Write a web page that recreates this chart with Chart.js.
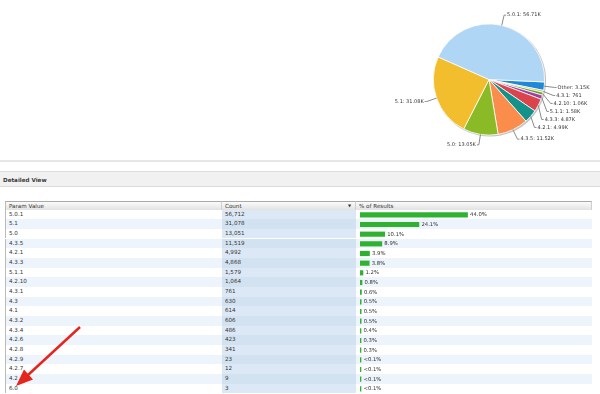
<!DOCTYPE html>
<html>
<head>
<meta charset="utf-8">
<script src="https://cdn.jsdelivr.net/npm/chart.js@4"></script>
<style>
body { margin: 0; width: 600px; height: 394px; overflow: hidden; position: relative; background: #fff;
  font-family: Verdana, "DejaVu Sans", sans-serif; color: #333; }
#pieBox { position: absolute; left: 380px; top: 0; width: 220px; height: 156px; }
.sep { position: absolute; left: 0; top: 160px; width: 600px; height: 2px; background: #e6e6e6; }
.hdr { position: absolute; left: 0; top: 171px; width: 600px; height: 16px; background: #f1f1f1;
  border-top: 1px solid #dcdcdc; border-bottom: 1px solid #dcdcdc; font-weight: bold; font-size: 5.6px;
  line-height: 16px; padding-left: 3px; box-sizing: border-box; color: #3a3a3a; }
.th { position: absolute; top: 201px; height: 8.5px; line-height: 8.5px; font-size: 5.6px; padding-left: 3px;
  box-sizing: border-box; background: linear-gradient(#fbfbfb, #e2e2e2); border-top: 1px solid #a9a9a9;
  border-right: 1px solid #cfcfcf; }
.cell { position: absolute; font-size: 5.6px; padding-left: 3px; box-sizing: border-box; }
#barBox { position: absolute; left: 356px; top: 209.5px; width: 236px; height: 183.7px; }
svg { position: absolute; left: 0; top: 0; }
</style>
</head>
<body>
<div id="pieBox"><canvas id="pie"></canvas></div>
<div class="sep"></div>
<div class="hdr">Detailed View</div>
<div id="table"></div>
<div id="barBox"><canvas id="bars"></canvas></div>
<svg width="600" height="394">
  <line x1="80" y1="327" x2="28" y2="375" stroke="#e4261e" stroke-width="2.5"/>
  <polygon points="16,386 24,369.5 33,379.5" fill="#e4261e"/>
</svg>
<script>
// Android versions, sorted by count
var paramValues = ['5.0.1','5.1','5.0','4.3.5','4.2.1','4.3.3','5.1.1','4.2.10','4.3.1','4.3','4.1','4.3.2','4.3.4','4.2.6','4.2.8','4.2.9','4.2.7','4.2','6.0'];
var counts = [56712,31078,13051,11519,4992,4868,1579,1064,761,630,614,606,486,423,341,23,12,9,3];
var pieTop = 9; // versions shown in the pie, rest goes to "Other"
var pieColors = ['#afd6f5','#f3be2e','#8bba27','#fa8d4b','#14918b','#d9444d','#a2419c','#6e9b2d','#c6cb3c','#1f88d8'];

var total = counts.reduce(function (a, b) { return a + b; }, 0);
var shares = counts.map(function (c) { return c / total * 100; });

var pieNames = paramValues.slice(0, pieTop).concat(['Other']);
var pieCounts = counts.slice(0, pieTop).concat([counts.slice(pieTop).reduce(function (a, b) { return a + b; }, 0)]);

function fmtK(v) { return v >= 1000 ? (v / 1000).toFixed(2) + 'K' : String(v); }
function fmtPct(v) { return v < 0.1 ? '<0.1%' : v.toFixed(1) + '%'; }

// table (text columns)
var rowTop = 209.5, rowH = 9.67;
var html = '';
html += '<div class="th" style="left:5px;width:217px;border-left:1px solid #bbb">Param Value</div>';
html += '<div class="th" style="left:222px;width:134px">Count<span style="position:absolute;right:4px;font-size:4px">&#9660;</span></div>';
html += '<div class="th" style="left:356px;width:236px">% of Results</div>';
for (var i = 0; i < paramValues.length; i++) {
  var t = rowTop + i * rowH;
  var odd = i % 2 === 1;
  var base = 'top:' + t + 'px;height:' + rowH + 'px;line-height:' + rowH + 'px;';
  html += '<div class="cell" style="' + base + 'left:5px;width:217px;border-left:1px solid #bbb;background:' + (odd ? '#edf4fc' : '#fff') + '">' + paramValues[i] + '</div>';
  html += '<div class="cell" style="' + base + 'left:222px;width:134px;background:' + (odd ? '#d3e2f1' : '#dce8f5') + '">' + counts[i].toLocaleString('en-US') + '</div>';
  html += '<div class="cell" style="' + base + 'left:356px;width:236px;background:' + (odd ? '#edf4fc' : '#fff') + '"></div>';
}
document.getElementById('table').innerHTML = html;

// pie labels with connectors
var pieLabels = {
  id: 'pieLabels',
  beforeDatasetsDraw: function (chart) {
    var a = chart.getDatasetMeta(0).data[0];
    var ctx = chart.ctx;
    ctx.save();
    ctx.fillStyle = '#c4c4c4';
    ctx.beginPath();
    ctx.arc(a.x + 1, a.y + 1, a.outerRadius + 0.5, 0, Math.PI * 2);
    ctx.fill();
    ctx.restore();
  },
  afterDatasetsDraw: function (chart) {
    var ctx = chart.ctx;
    var arcs = chart.getDatasetMeta(0).data;
    var names = chart.data.labels, vals = chart.data.datasets[0].data;
    var cx = arcs[0].x, cy = arcs[0].y, r = arcs[0].outerRadius, d = r + 10.5;
    var items = arcs.map(function (arc, i) {
      var mid = (arc.startAngle + arc.endAngle) / 2;
      return { i: i, mid: mid, side: Math.cos(mid) >= 0 ? 1 : -1, y: cy + d * Math.sin(mid) };
    });
    [1, -1].forEach(function (side) {
      var list = items.filter(function (it) { return it.side === side; }).sort(function (p, q) { return p.y - q.y; });
      for (var k = 1; k < list.length; k++) {
        if (list[k].y - list[k - 1].y < 8) list[k].y = list[k - 1].y + 8;
      }
    });
    ctx.save();
    ctx.font = '5px Verdana, "DejaVu Sans", sans-serif';
    ctx.textBaseline = 'middle';
    ctx.strokeStyle = '#8a8a8a';
    ctx.lineWidth = 1;
    ctx.fillStyle = '#333';
    items.forEach(function (it) {
      var dy = it.y - cy;
      var lx = cx + it.side * Math.sqrt(Math.max(d * d - dy * dy, 0));
      var ex = cx + r * Math.cos(it.mid), ey = cy + r * Math.sin(it.mid);
      ctx.beginPath();
      ctx.moveTo(ex, ey);
      ctx.lineTo(lx, it.y);
      ctx.lineTo(lx + it.side * 2, it.y);
      ctx.stroke();
      ctx.textAlign = it.side > 0 ? 'left' : 'right';
      ctx.fillText(names[it.i] + ': ' + fmtK(vals[it.i]), lx + it.side * 3, it.y);
    });
    ctx.restore();
  }
};

new Chart(document.getElementById('pie'), {
  type: 'pie',
  data: {
    labels: pieNames.slice().reverse(),
    datasets: [{
      data: pieCounts.slice().reverse(),
      backgroundColor: pieColors.slice().reverse(),
      borderColor: '#fff',
      borderWidth: 0.8
    }]
  },
  options: {
    responsive: true,
    maintainAspectRatio: false,
    animation: false,
    rotation: 92.5,
    layout: { padding: { left: 53, right: 55, top: 23.5, bottom: 20.5 } },
    plugins: { legend: { display: false }, tooltip: { enabled: false } }
  },
  plugins: [pieLabels]
});

// percentage labels right of the bars
var barLabels = {
  id: 'barLabels',
  afterDatasetsDraw: function (chart) {
    var ctx = chart.ctx;
    var bars = chart.getDatasetMeta(0).data;
    ctx.save();
    ctx.font = '5.3px Verdana, "DejaVu Sans", sans-serif';
    ctx.textBaseline = 'middle';
    ctx.fillStyle = '#333';
    bars.forEach(function (b, i) {
      ctx.fillText(fmtPct(shares[i]), b.x + 2.5, b.y);
    });
    ctx.restore();
  }
};

new Chart(document.getElementById('bars'), {
  type: 'bar',
  data: {
    labels: paramValues,
    datasets: [{
      data: shares,
      backgroundColor: '#2fb22f',
      barThickness: 4.5,
      minBarLength: 1
    }]
  },
  options: {
    indexAxis: 'y',
    responsive: true,
    maintainAspectRatio: false,
    animation: false,
    layout: { padding: { left: 4, right: 0, top: 0, bottom: 0 } },
    scales: {
      x: { display: false, min: 0, max: 95 },
      y: { display: false }
    },
    plugins: { legend: { display: false }, tooltip: { enabled: false } }
  },
  plugins: [barLabels]
});
</script>
</body>
</html>
